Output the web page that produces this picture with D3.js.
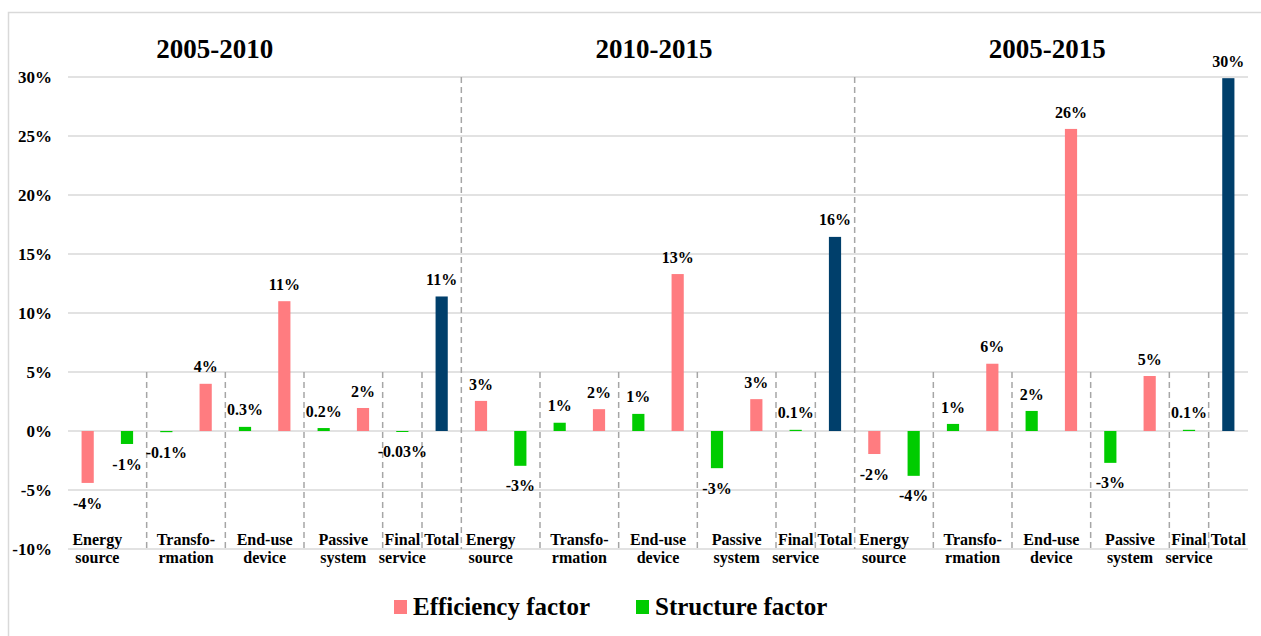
<!DOCTYPE html>
<html>
<head>
<meta charset="utf-8">
<script src="https://cdn.jsdelivr.net/npm/d3@7"></script>
<style>
    body { margin: 0; background: #fff; }
</style>
</head>
<body>
<div id="chart"></div>
<script>
// periods shown as the three panels
var periods = ["2005-2010", "2010-2015", "2005-2015"];
// components in each panel, label split on two lines like the original
var components = [["Energy", "source"], ["Transfo-", "rmation"], ["End-use", "device"], ["Passive", "system"], ["Final", "service"]];
// which factor comes first inside every component
var slotOrder = [["efficiency", "structure"], ["structure", "efficiency"], ["structure", "efficiency"], ["structure", "efficiency"], ["structure"]];
// values in %
var efficiency = [
    [-4.4, 4.0, 11.0, 1.95, null]
    , [2.55, 1.85, 13.3, 2.7, null]
    , [-1.95, 5.7, 25.6, 4.66, null]
];
var structure = [
    [-1.1, -0.1, 0.35, 0.25, -0.03]
    , [-2.95, 0.7, 1.45, -3.15, 0.1]
    , [-3.8, 0.6, 1.7, -2.7, 0.1]
];
var totals = [11.4, 16.45, 29.9];
// data labels as printed
var efficiencyLabels = [
    ["-4%", "4%", "11%", "2%", null]
    , ["3%", "2%", "13%", "3%", null]
    , ["-2%", "6%", "26%", "5%", null]
];
var structureLabels = [
    ["-1%", "-0.1%", "0.3%", "0.2%", "-0.03%"]
    , ["-3%", "1%", "1%", "-3%", "0.1%"]
    , ["-4%", "1%", "2%", "-3%", "0.1%"]
];
var totalLabels = ["11%", "16%", "30%"];
var yTicks = [-10, -5, 0, 5, 10, 15, 20, 25, 30];
var legendItems = ["Efficiency factor", "Structure factor"];

var colors = {
    efficiency: "#ff7c80"
    , structure: "#00cc00"
    , total: "#003f6b"
};
var FONT = "'Liberation Serif', 'Times New Roman', Times, serif";

var W = 1261
    , H = 636;
var margin = {
    top: 77
    , right: 13
    , bottom: 87
    , left: 68
};

// build one slot per bar
var slots = [];
var catLabels = [];
periods.forEach(function (p, pi) {
    components.forEach(function (c, ci) {
        var ids = [];
        slotOrder[ci].forEach(function (s) {
            var v = s == "efficiency" ? efficiency[pi][ci] : structure[pi][ci];
            var lab = s == "efficiency" ? efficiencyLabels[pi][ci] : structureLabels[pi][ci];
            var id = p + "|" + ci + "|" + s;
            slots.push({
                id: id
                , period: pi
                , comp: ci
                , series: s
                , value: v
                , label: lab
            });
            ids.push(id);
        });
        catLabels.push({
            lines: c
            , ids: ids
            , first: ci == 0
        });
    });
    var tid = p + "|total";
    slots.push({
        id: tid
        , period: pi
        , comp: 5
        , series: "total"
        , value: totals[pi]
        , label: totalLabels[pi]
    });
    catLabels.push({
        lines: ["Total"]
        , ids: [tid]
        , first: false
    });
});

var svg = d3.select("#chart").append("svg").attr("width", W).attr("height", H).attr("font-family", FONT).attr("font-weight", "bold");

// outer frame
svg.append("rect").attr("x", 8.5).attr("y", 12.5).attr("width", W).attr("height", H).attr("fill", "none").attr("stroke", "#d9d9d9").attr("stroke-width", 1.5);

var x = d3.scaleBand().domain(slots.map(function (d) {
    return d.id
})).range([margin.left, W - margin.right]).padding(0);
var y = d3.scaleLinear().domain([-10, 30]).range([H - margin.bottom, margin.top]);
var barW = x.bandwidth() * 0.31;

function cx(id) {
    return x(id) + x.bandwidth() / 2;
}

// gridlines
svg.append("g").selectAll("line").data(yTicks).join("line").attr("x1", margin.left).attr("x2", W - margin.right).attr("y1", function (d) {
    return y(d)
}).attr("y2", function (d) {
    return y(d)
}).attr("stroke", "#d9d9d9").attr("stroke-width", 1.5);

// y tick labels
svg.append("g").selectAll("text").data(yTicks).join("text").attr("x", 52).attr("y", function (d) {
    return y(d)
}).attr("dy", "0.35em").attr("text-anchor", "end").attr("font-size", 17).text(function (d) {
    return d + "%"
});

// dashed separators: short ones between components, long ones between periods
var seps = [];
slots.forEach(function (d, i) {
    if (i == 0) return;
    var prev = slots[i - 1];
    if (d.period != prev.period) seps.push({
        x: x(d.id)
        , top: 30
    });
    else if (d.comp != prev.comp) seps.push({
        x: x(d.id)
        , top: 5
    });
});
svg.append("g").selectAll("line").data(seps).join("line").attr("x1", function (d) {
    return d.x
}).attr("x2", function (d) {
    return d.x
}).attr("y1", function (d) {
    return y(d.top)
}).attr("y2", y(-10)).attr("stroke", "#a6a6a6").attr("stroke-width", 1.5).attr("stroke-dasharray", "6,4");

// bars
svg.append("g").selectAll("rect").data(slots).join("rect").attr("x", function (d) {
    return cx(d.id) - barW / 2
}).attr("width", barW).attr("y", function (d) {
    return y(Math.max(0, d.value))
}).attr("height", function (d) {
    return Math.max(1, Math.abs(y(d.value) - y(0)))
}).attr("fill", function (d) {
    return colors[d.series]
});

// data labels
svg.append("g").selectAll("text").data(slots).join("text").attr("x", function (d) {
    return cx(d.id)
}).attr("y", function (d) {
    return d.value >= 0 ? y(d.value) - 17 : y(d.value) + 20
}).attr("dy", "0.35em").attr("text-anchor", "middle").attr("font-size", 16).text(function (d) {
    return d.label
});

// category labels under the plot
var cat = svg.append("g").selectAll("text").data(catLabels).join("text").attr("text-anchor", "middle").attr("font-size", 16).attr("transform", function (d) {
    var m = d3.mean(d.ids, cx);
    if (d.first) m -= 10;
    return "translate(" + m + ",0)";
});
cat.selectAll("tspan").data(function (d) {
    return d.lines
}).join("tspan").attr("x", 0).attr("y", function (d, i) {
    return 545 + i * 18
}).text(function (d) {
    return d
});

// period titles
svg.append("g").selectAll("text").data(periods).join("text").attr("x", function (d, i) {
    var ids = slots.filter(function (s) {
        return s.period == i
    }).map(function (s) {
        return s.id
    });
    return d3.mean(ids, cx) - (i == 0 ? 50 : 4);
}).attr("y", 58).attr("text-anchor", "middle").attr("font-size", 27).text(function (d) {
    return d
});

// legend
var legendKeys = ["efficiency", "structure"];
var lg = svg.append("g").attr("transform", "translate(394,600)");
var item = lg.selectAll("g").data(legendItems).join("g").attr("transform", function (d, i) {
    return "translate(" + (i * 242) + ",0)"
});
item.append("rect").attr("width", 13).attr("height", 14).attr("fill", function (d, i) {
    return colors[legendKeys[i]]
});
item.append("text").attr("x", 19).attr("y", 15).attr("font-size", 25).text(function (d) {
    return d
});
</script>
</body>
</html>
